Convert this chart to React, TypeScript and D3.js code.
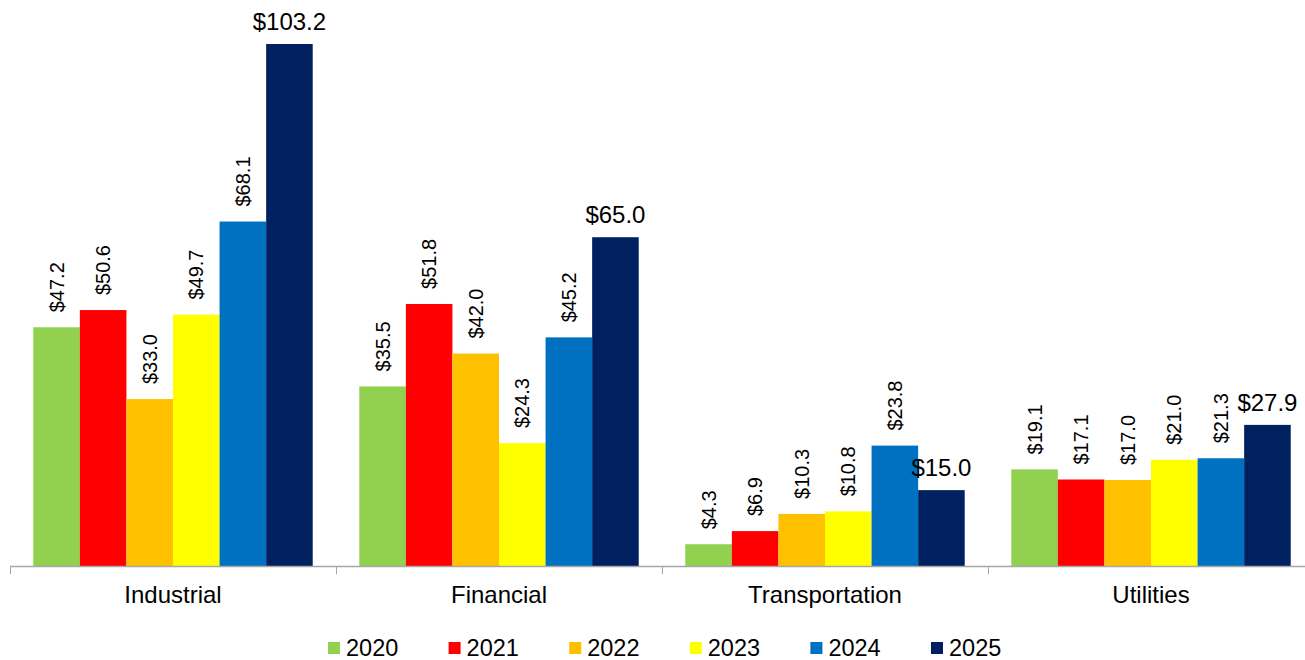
import React from "react";
import * as d3 from "d3";

const categories = ["Industrial", "Financial", "Transportation", "Utilities"];
const years = ["2020", "2021", "2022", "2023", "2024", "2025"];
const colors = ["#92D050", "#FF0000", "#FFC000", "#FFFF00", "#0070C0", "#002060"];
const values2020 = [47.2, 35.5, 4.3, 19.1];
const values2021 = [50.6, 51.8, 6.9, 17.1];
const values2022 = [33.0, 42.0, 10.3, 17.0];
const values2023 = [49.7, 24.3, 10.8, 21.0];
const values2024 = [68.1, 45.2, 23.8, 21.3];
const values2025 = [103.2, 65.0, 15.0, 27.9];
const series = [values2020, values2021, values2022, values2023, values2024, values2025];

const W = 1305;
const H = 660;
const FONT = "'Liberation Sans', Arial, sans-serif";

export default function App() {
  const x0 = d3.scaleBand<string>().domain(categories).range([10, 1314]).paddingInner(0).paddingOuter(0);
  const x1 = d3.scaleBand<string>().domain(years).range([0, x0.bandwidth()]).paddingOuter(0.5).paddingInner(0);
  const y = d3.scaleLinear().domain([0, 103.2]).range([566, 44]);
  const base = y(0);

  return (
    <svg width={W} height={H} style={{ position: "absolute", left: 0, top: 0, background: "#fff" }} fontFamily={FONT}>
      {categories.map((c, ci) => (
        <g key={c}>
          {years.map((yr, si) => {
            const v = series[si][ci];
            const bx = (x0(c) as number) + (x1(yr) as number);
            const bw = x1.bandwidth();
            const top = y(v);
            return (
              <rect key={yr} x={bx} y={top} width={bw} height={base - top} fill={colors[si]} />
            );
          })}
        </g>
      ))}
      {/* labels */}
      {categories.map((c, ci) => (
        <g key={c + "l"}>
          {years.map((yr, si) => {
            const v = series[si][ci];
            const cx = (x0(c) as number) + (x1(yr) as number) + x1.bandwidth() / 2;
            const top = y(v);
            const label = "$" + v.toFixed(1);
            if (si === 5) {
              return (
                <text key={yr} x={cx} y={top - 14} textAnchor="middle" fontSize={24} fill="#000">
                  {label}
                </text>
              );
            }
            return (
              <text
                key={yr}
                transform={`translate(${cx + 7},${top - 15}) rotate(-90)`}
                textAnchor="start"
                fontSize={20}
                fill="#000"
              >
                {label}
              </text>
            );
          })}
        </g>
      ))}
      {/* axis */}
      <line x1={10} x2={1314} y1={base + 0.5} y2={base + 0.5} stroke="#A6A6A6" strokeWidth={1.5} />
      {[...categories.map((c) => x0(c) as number), 1314].map((tx, i) => (
        <line key={i} x1={tx + 0.5} x2={tx + 0.5} y1={base} y2={base + 8} stroke="#A6A6A6" strokeWidth={1} />
      ))}
      {categories.map((c) => (
        <text key={c + "t"} x={(x0(c) as number) + x0.bandwidth() / 2} y={603} textAnchor="middle" fontSize={24} fill="#000">
          {c}
        </text>
      ))}
      {/* legend */}
      {years.map((yr, i) => {
        const lx = 328 + i * 120.6;
        return (
          <g key={yr + "g"}>
            <rect x={lx} y={642} width={12} height={12} fill={colors[i]} />
            <text x={lx + 18} y={656} fontSize={23.5} fill="#000">
              {yr}
            </text>
          </g>
        );
      })}
    </svg>
  );
}
